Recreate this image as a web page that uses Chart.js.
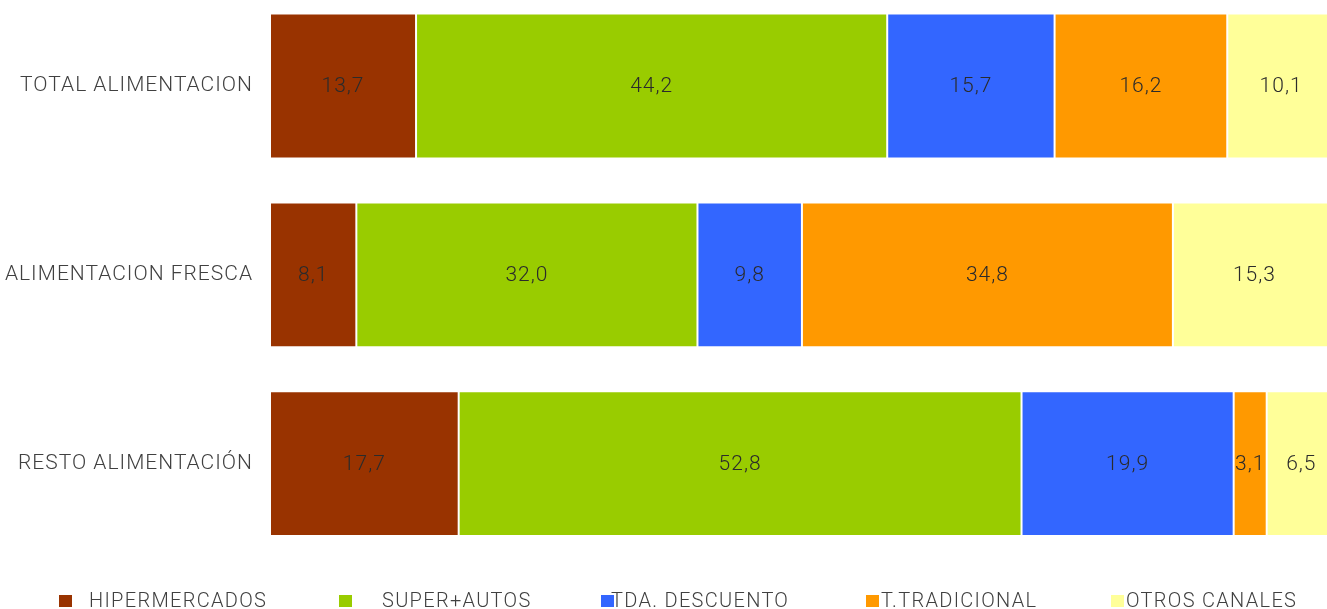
<!DOCTYPE html>
<html>
<head>
<meta charset="utf-8">
<script src="https://cdn.jsdelivr.net/npm/chart.js@4/dist/chart.umd.min.js"></script>
<style>
  html, body { margin: 0; padding: 0; background: #fff; overflow: hidden; }
  body { position: relative; width: 1327px; height: 609px; overflow: hidden; }
  #wrap { position: absolute; left: 0; top: -38px; width: 1336px; height: 647px; }
  #leyenda { position: absolute; left: 0; top: 590px; width: 1327px; height: 20px; }
  #leyenda .item { position: absolute; top: 0; height: 20px; }
  #leyenda .caja { position: absolute; top: 5px; left: 0; width: 13px; height: 12px; }
  #leyenda .texto {
    position: absolute; top: 0; white-space: nowrap;
    font: 300 20px/20px Roboto, "DejaVu Sans", sans-serif;
    letter-spacing: 1.3px; color: #404040;
  }
</style>
</head>
<body>
<div id="wrap"><canvas id="grafico"></canvas></div>
<div id="leyenda"></div>
<script>
// Categorías y cuotas por canal (%)
const categorias = ['TOTAL ALIMENTACION', 'ALIMENTACION FRESCA', 'RESTO ALIMENTACIÓN'];
const canales = ['HIPERMERCADOS', 'SUPER+AUTOS', 'TDA. DESCUENTO', 'T.TRADICIONAL', 'OTROS CANALES'];
const hipermercados = [13.7, 8.1, 17.7];
const superAutos = [44.2, 32.0, 52.8];
const tdaDescuento = [15.7, 9.8, 19.9];
const tTradicional = [16.2, 34.8, 3.1];
const otrosCanales = [10.1, 15.3, 6.5];
const colores = ['#993300', '#99CC00', '#3366FF', '#FF9900', '#FFFF99'];

const series = [hipermercados, superAutos, tdaDescuento, tTradicional, otrosCanales];

const fuente = 'Roboto, "DejaVu Sans", sans-serif';

// Espaciado de letras en el canvas (se pierde al redimensionar, por eso en cada dibujo)
const espaciado = {
    id: 'espaciado',
    beforeDraw(chart) { chart.ctx.letterSpacing = '1px'; }
};

// Etiquetas de valor en el centro de cada tramo
const etiquetasValor = {
    id: 'etiquetasValor',
    afterDatasetsDraw(chart) {
        const ctx = chart.ctx;
        ctx.save();
        ctx.letterSpacing = '1px';
        ctx.font = '300 21px ' + fuente;
        ctx.fillStyle = '#2b2b2b';
        ctx.textAlign = 'center';
        ctx.textBaseline = 'middle';
        chart.data.datasets.forEach((ds, i) => {
            chart.getDatasetMeta(i).data.forEach((bar, j) => {
                const p = bar.getProps(['x', 'y', 'base'], true);
                const cx = (p.x + p.base) / 2;
                ctx.fillText(ds.data[j].toFixed(1).replace('.', ','), cx, p.y + 1);
            });
        });
        ctx.restore();
    }
};

const ctx = document.getElementById('grafico').getContext('2d');
new Chart(ctx, {
    type: 'bar',
    data: {
        labels: categorias,
        datasets: canales.map((nombre, i) => ({
            label: nombre,
            data: series[i],
            backgroundColor: colores[i],
            borderColor: 'rgba(255,255,255,0.5)',
            borderWidth: 1,
            borderSkipped: false,
            categoryPercentage: 0.767,
            barPercentage: 1
        }))
    },
    options: {
        indexAxis: 'y',
        responsive: true,
        maintainAspectRatio: false,
        animation: false,
        layout: { padding: { left: 0, right: 0, top: 0, bottom: 51 } },
        scales: {
            x: {
                stacked: true,
                min: 0,
                max: 100,
                display: false
            },
            y: {
                stacked: true,
                grid: { display: false, drawTicks: false },
                border: { display: false },
                ticks: {
                    color: '#404040',
                    padding: 17,
                    font: { family: fuente, size: 21, weight: '300' }
                },
                afterFit(scale) { scale.width = 270; }
            }
        },
        plugins: {
            tooltip: { enabled: false },
            legend: { display: false }
        }
    },
    plugins: [espaciado, etiquetasValor]
});

// Leyenda en HTML: posición de la caja y desplazamiento del texto para cada canal
const posLeyenda = [[59, 30], [339, 43], [601, 10], [866, 15], [1111, 15]];
const leyenda = document.getElementById('leyenda');
canales.forEach((nombre, i) => {
    const item = document.createElement('div');
    item.className = 'item';
    item.style.left = posLeyenda[i][0] + 'px';
    const caja = document.createElement('div');
    caja.className = 'caja';
    caja.style.background = colores[i];
    const texto = document.createElement('div');
    texto.className = 'texto';
    texto.style.left = posLeyenda[i][1] + 'px';
    texto.textContent = nombre;
    item.appendChild(caja);
    item.appendChild(texto);
    leyenda.appendChild(item);
});
</script>
</body>
</html>
